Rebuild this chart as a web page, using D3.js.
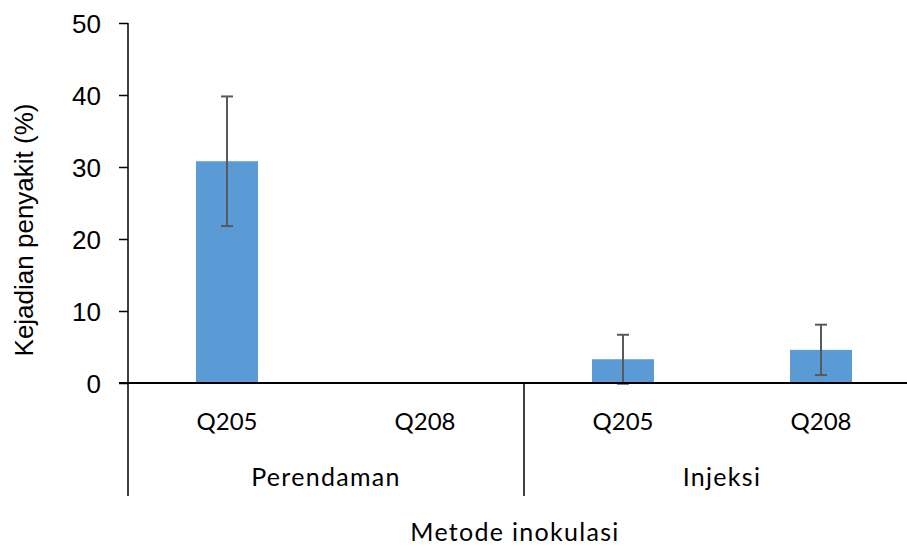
<!DOCTYPE html>
<html><head><meta charset="utf-8">
<script src="https://cdn.jsdelivr.net/npm/d3@7/dist/d3.min.js"></script>
<style>body{margin:0;background:#fff}svg{display:block}</style>
</head><body>
<script>
const categories = ["Q205","Q208","Q205","Q208"];
const groups = ["Perendaman","Injeksi"];
const groupOf = [0,0,1,1];
const values = [30.8, 0, 3.3, 4.6];
const errors = [9.0, 0, 3.4, 3.5];
const yTicks = [0,10,20,30,40,50];

const W = 907, H = 547;
const svg = d3.select("body").append("svg").attr("width",W).attr("height",H);
const x0 = 128, xStep = 198;
const x = d3.scaleBand().domain(d3.range(categories.length)).range([x0, x0 + xStep*categories.length]).paddingInner(0.687).paddingOuter(0.3435);
const y = d3.scaleLinear().domain([0,50]).range([383,23]);

// bars
svg.selectAll("rect.bar").data(values).join("rect")
  .attr("x",(d,i)=>x(i)).attr("width",x.bandwidth())
  .attr("y",d=>y(d)).attr("height",d=>y(0)-y(d))
  .attr("fill","#5b9bd5");

// error bars
const eb = svg.append("g").attr("stroke","#595959").attr("stroke-width",2);
values.forEach((v,i)=>{
  if(errors[i]===0) return;
  const cx = x(i)+x.bandwidth()/2;
  eb.append("line").attr("x1",cx).attr("x2",cx).attr("y1",y(v+errors[i])).attr("y2",y(v-errors[i]));
  [v+errors[i], v-errors[i]].forEach(e=>{
    eb.append("line").attr("x1",cx-6).attr("x2",cx+6).attr("y1",y(e)).attr("y2",y(e));
  });
});

// y axis
const yAxis = d3.axisLeft(y).tickValues(yTicks).tickSize(9).tickPadding(18);
const ga = svg.append("g").attr("transform",`translate(${x0},0)`).call(yAxis);
ga.select(".domain").attr("stroke","#000").attr("stroke-width",1.5).attr("d","M0,23V383");
ga.selectAll(".tick line").attr("stroke","#000").attr("stroke-width",1.5);
ga.selectAll(".tick text").attr("font-family","'Liberation Sans', Arial, sans-serif").attr("font-size",26).attr("fill","#000").attr("dy","0.36em");

// x axis baseline
svg.append("line").attr("x1",119).attr("x2",W).attr("y1",y(0)).attr("y2",y(0)).attr("stroke","#000").attr("stroke-width",2);

// group separators
[0, 2].forEach(i=>{
  const sx = x0 + xStep*i;
  svg.append("line").attr("x1",sx).attr("x2",sx).attr("y1",y(0)).attr("y2",496).attr("stroke","#000").attr("stroke-width",1.5);
});

const catFont = "Lato, 'Open Sans', sans-serif";
// category labels
svg.selectAll("text.cat").data(categories).join("text")
  .attr("x",(d,i)=>x(i)+x.bandwidth()/2).attr("y",430)
  .attr("text-anchor","middle").attr("font-family",catFont).attr("font-size",24).attr("fill","#000")
  .text(d=>d);
// group labels
groups.forEach((g,gi)=>{
  const idx = groupOf.map((v,i)=>v===gi?i:-1).filter(i=>i>=0);
  const cx = x0 + xStep*(idx[0] + idx.length/2);
  svg.append("text").attr("x",cx).attr("y",486).attr("text-anchor","middle")
    .attr("font-family",catFont).attr("font-size",25).attr("letter-spacing","1.3px").attr("fill","#000").text(g);
});
// axis titles
svg.append("text").attr("x",515).attr("y",541).attr("text-anchor","middle")
  .attr("font-family",catFont).attr("font-size",25).attr("letter-spacing","1.3px").attr("fill","#000").text("Metode inokulasi");
svg.append("text").attr("transform","translate(33,230) rotate(-90)").attr("text-anchor","middle")
  .attr("font-family","'Liberation Sans', Arial, sans-serif").attr("font-size",26).attr("fill","#000")
  .text("Kejadian penyakit (%)");
</script>
</body></html>
